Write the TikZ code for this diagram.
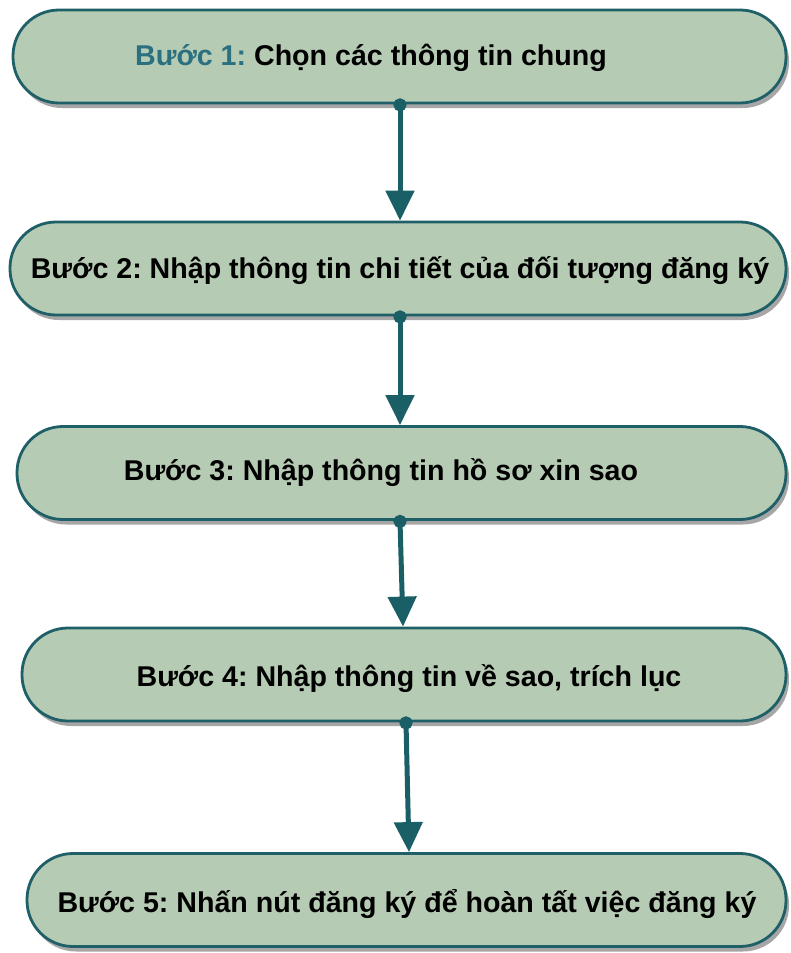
\documentclass[tikz,border=0pt]{standalone}
\usepackage{fontspec}
\setmainfont{Liberation Sans}
\frenchspacing
\usetikzlibrary{arrows.meta,shadows,calc}
\definecolor{sage}{HTML}{B6CBB3}
\definecolor{edge}{HTML}{1F6068}
\definecolor{arrowc}{HTML}{1A5F66}
\definecolor{tealtxt}{HTML}{2B7080}
\tikzset{
  stepbox/.style={draw=edge, line width=2.8pt, fill=sage, rounded corners=46pt,
    minimum height=93pt, inner sep=0pt,
    drop shadow={shadow xshift=3pt, shadow yshift=-5pt, fill=black, opacity=0.35}},
  steptext/.style={font=\fontsize{28.6}{32}\selectfont\bfseries, inner sep=0pt, anchor=center},
  flow/.style={draw=arrowc, line width=5pt, shorten <=-6pt,
    {Circle[length=13pt]}-{Triangle[length=30pt,width=28pt]}}
}
\begin{document}
\begin{tikzpicture}[x=1pt,y=-1pt]
\useasboundingbox (0,0) rectangle (790,953);
\node[stepbox, minimum width=773pt] (b1) at (399.5,56.5) {};
\node[stepbox, minimum width=776pt] (b2) at (398,268.5) {};
\node[stepbox, minimum width=769pt] (b3) at (401.5,473) {};
\node[stepbox, minimum width=764pt] (b4) at (404,674.5) {};
\node[stepbox, minimum width=759pt] (b5) at (406.5,900) {};
\node[steptext] (t1) at (371,58) {\textcolor{tealtxt}{Bước 1:} Chọn các thông tin chung};
\node[steptext] (t2) at (400,271) {Bước 2: Nhập thông tin chi tiết của đối tượng đăng ký};
\node[steptext] (t3) at (381,473) {Bước 3: Nhập thông tin hồ sơ xin sao};
\node[steptext] (t4) at (409,679) {Bước 4: Nhập thông tin về sao, trích lục};
\node[steptext] (t5) at (407,904) {Bước 5: Nhấn nút đăng ký để hoàn tất việc đăng ký};
\draw[flow] (400,0 |- b1.south) -- (400,0 |- b2.north);
\draw[flow] (400,0 |- b2.south) -- (400,0 |- b3.north);
\draw[flow] (400,0 |- b3.south) -- (403,0 |- b4.north);
\draw[flow] (406,0 |- b4.south) -- (409,0 |- b5.north);
\end{tikzpicture}
\end{document}
